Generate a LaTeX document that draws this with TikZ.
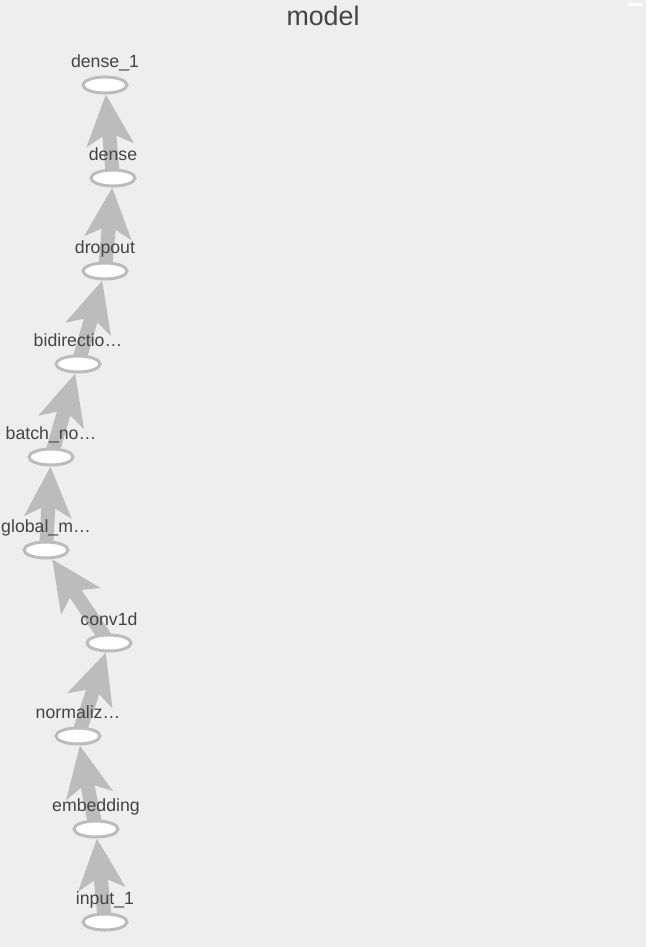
\documentclass[tikz,border=0pt]{standalone}
\usepackage{fontspec}
\setmainfont{Liberation Sans}
\usetikzlibrary{arrows.meta,shapes.geometric,backgrounds}
\definecolor{modelbg}{RGB}{238,238,238}
\definecolor{modelgray}{RGB}{188,188,188}
\definecolor{modeltext}{RGB}{68,68,68}

\begin{document}
\begin{tikzpicture}[
      x=1pt,y=-1pt,
      op/.style={ellipse,draw=modelgray,line width=3pt,fill=white,minimum width=44pt,minimum height=16pt,inner sep=0pt,
        label={[font=\fontsize{17.7}{18}\selectfont,text=modeltext,inner sep=0pt,text height=13pt,text depth=3.5pt,label distance=4pt]above:#1}},
      flow/.style={draw=modelgray,line width=14pt,-{Stealth[length=50pt,width=46pt,inset=12pt]}}
    ]
    \useasboundingbox (0,0) rectangle (646,947);
    \node[anchor=base,text=modeltext,font=\fontsize{26.8}{27}\selectfont] (title) at (323,26) {model};

    \node[op=dense\_1] (dense1) at (105,85) {};
    \node[op=dense] (dense) at (113,178) {};
    \node[op=dropout] (dropout) at (105,271) {};
    \node[op=bidirectio…] (bidir) at (78,364) {};
    \node[op=batch\_no…] (batchnorm) at (51,457) {};
    \node[op=global\_m…] (globalmax) at (46,550) {};
    \node[op=conv1d] (conv) at (109,643) {};
    \node[op=normaliz…] (normal) at (78,736) {};
    \node[op=embedding] (embed) at (96,829) {};
    \node[op=input\_1] (input) at (105,922) {};

    \begin{scope}[on background layer]
      \fill[modelbg] (0,0) rectangle (646,947);
      \fill[white] (628,3) rectangle (642,6);
      \draw[flow] (input.center) -- (embed);
      \draw[flow] (embed.center) -- (normal);
      \draw[flow] (normal.center) -- (conv);
      \draw[flow] (conv.center) -- (globalmax);
      \draw[flow] (globalmax.center) -- (batchnorm);
      \draw[flow] (batchnorm.center) -- (bidir);
      \draw[flow] (bidir.center) -- (dropout);
      \draw[flow] (dropout.center) -- (dense);
      \draw[flow] (dense.center) -- (dense1);
    \end{scope}
  \end{tikzpicture}
\end{document}
